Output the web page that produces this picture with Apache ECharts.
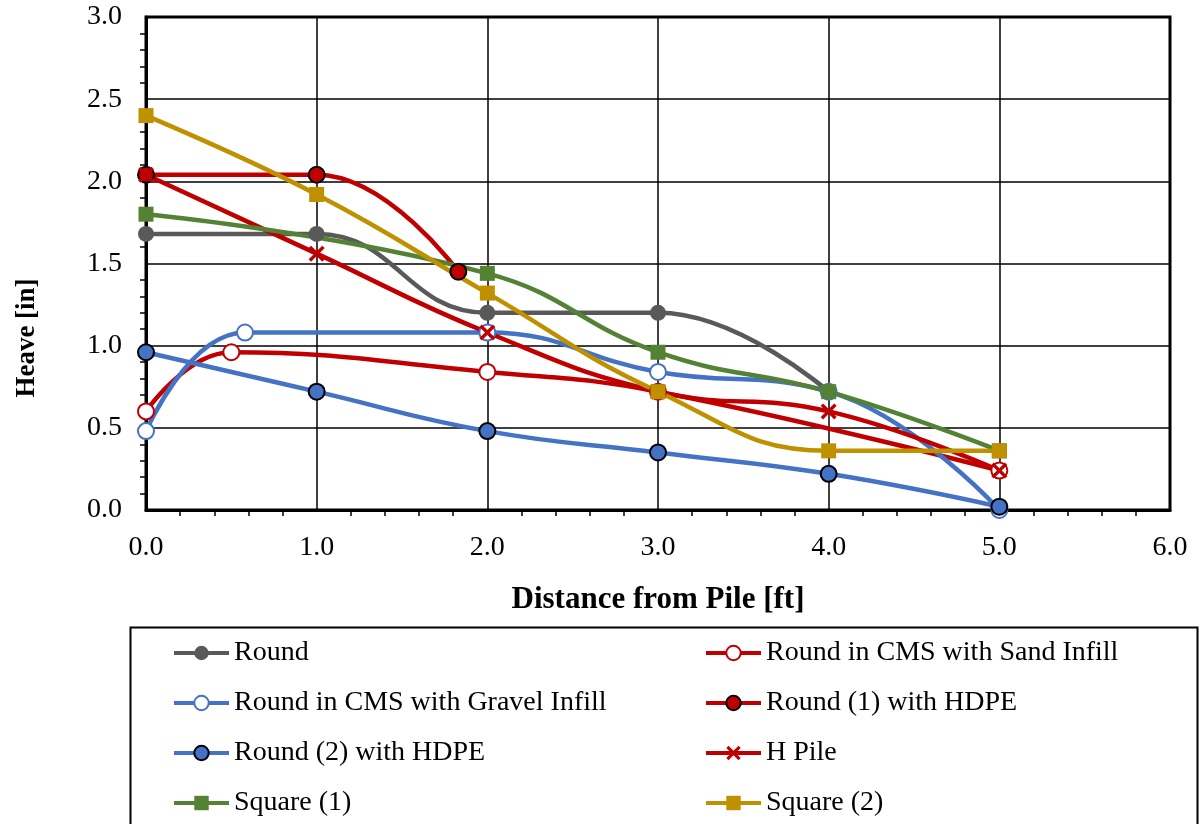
<!DOCTYPE html>
<html><head><meta charset="utf-8">
<script src="https://cdn.jsdelivr.net/npm/echarts@6/dist/echarts.min.js"></script>
<style>html,body{margin:0;padding:0;background:#fff}#c{width:1202px;height:824px}</style>
</head><body><div id="c"></div>
<script>
const names = ['Round','Round in CMS with Sand Infill','Round in CMS with Gravel Infill','Round (1) with HDPE','Round (2) with HDPE','H Pile','Square (1)','Square (2)'];
const roundX = [0,1,2,3,4];
const roundY = [1.68,1.68,1.20,1.20,0.72];
const sandX = [0,0.5,2,3,5];
const sandY = [0.60,0.96,0.84,0.72,0.24];
const gravelX = [0,0.58,2,3,4,5];
const gravelY = [0.48,1.08,1.08,0.84,0.72,0.00];
const hdpe1X = [0,1,1.83];
const hdpe1Y = [2.04,2.04,1.45];
const hdpe2X = [0,1,2,3,4,5];
const hdpe2Y = [0.96,0.72,0.48,0.35,0.22,0.02];
const hpileX = [0,1,2,3,4,5];
const hpileY = [2.04,1.56,1.08,0.72,0.60,0.24];
const sq1X = [0,2,3,4,5];
const sq1Y = [1.80,1.44,0.96,0.72,0.36];
const sq2X = [0,1,2,3,4,5];
const sq2Y = [2.40,1.92,1.32,0.72,0.36,0.36];

const FONT = '"Liberation Serif","Times New Roman",serif';
const pair = (xs, ys) => xs.map((x,i)=>[x, ys[i]]);
const X_PATH = 'path://M0,1.5L1.5,0L5,3.5L8.5,0L10,1.5L6.5,5L10,8.5L8.5,10L5,6.5L1.5,10L0,8.5L3.5,5Z';

function mk(name, data, color, symbol, fill, border, bw) {
  return {
    name, type:'line', data, smooth:0.45, clip:false,
    symbol, symbolSize: symbol==='rect'?15:16,
    lineStyle:{color, width:4.5},
    itemStyle:{color: fill, borderColor: border, borderWidth: bw},
    emphasis:{disabled:true}
  };
}

const series = [
  mk(names[0], pair(roundX,roundY), '#595959', 'circle', '#595959', '#595959', 0),
  mk(names[1], pair(sandX,sandY), '#C00000', 'circle', '#ffffff', '#C00000', 2),
  mk(names[2], pair(gravelX,gravelY), '#4472C4', 'circle', '#ffffff', '#4472C4', 2),
  mk(names[3], pair(hdpe1X,hdpe1Y), '#C00000', 'circle', '#C00000', '#000000', 2),
  mk(names[4], pair(hdpe2X,hdpe2Y), '#4472C4', 'circle', '#4472C4', '#000000', 2),
  mk(names[5], pair(hpileX,hpileY), '#C00000', X_PATH, '#C00000', '#C00000', 0),
  mk(names[6], pair(sq1X,sq1Y), '#548235', 'rect', '#548235', '#548235', 0),
  mk(names[7], pair(sq2X,sq2Y), '#BF9000', 'rect', '#BF9000', '#BF9000', 0)
];

const legendCommon = {
  orient:'vertical', itemWidth:55, itemHeight:18, itemGap:20, padding:0,
  height:400,
  lineStyle:{width:4},
  textStyle:{fontFamily:FONT, fontSize:28, color:'#000', lineHeight:30},
  selectedMode:false, top:638
};

const chart = echarts.init(document.getElementById('c'), null, {renderer:'canvas'});
chart.setOption({
  animation:false,
  backgroundColor:'#fff',
  grid:{left:146, right:32, top:17, bottom:314, show:true, borderColor:'#000', borderWidth:3, backgroundColor:'transparent'},
  xAxis:{
    type:'value', min:0, max:6, interval:1,
    name:'Distance from Pile [ft]', nameLocation:'middle', nameGap:74,
    nameTextStyle:{fontFamily:FONT, fontSize:31, fontWeight:'bold', color:'#000'},
    axisLine:{show:true, onZero:false, lineStyle:{color:'#000', width:3}},
    axisTick:{show:false},
    minorTick:{show:true, splitNumber:5, length:6, lineStyle:{color:'#000', width:1.5}},
    splitLine:{show:true, lineStyle:{color:'#000', width:1.5}},
    axisLabel:{fontFamily:FONT, fontSize:28, color:'#000', margin:24, formatter:v=>v.toFixed(1)}
  },
  yAxis:{
    type:'value', min:0, max:3, interval:0.5,
    axisLine:{show:true, onZero:false, lineStyle:{color:'#000', width:3}},
    axisTick:{show:false},
    minorTick:{show:true, splitNumber:5, length:6, lineStyle:{color:'#000', width:1.5}},
    splitLine:{show:true, lineStyle:{color:'#000', width:1.5}},
    axisLabel:{fontFamily:FONT, fontSize:28, color:'#000', margin:24, formatter:v=>v.toFixed(1)}
  },
  legend:[
    Object.assign({}, legendCommon, {left:172, data:[names[0],names[2],names[4],names[6]]}),
    Object.assign({}, legendCommon, {left:704, data:[names[1],names[3],names[5],names[7]]})
  ],
  graphic:[
    {type:'rect', shape:{x:130.5, y:627.5, width:1067, height:300}, style:{fill:'none', stroke:'#000', lineWidth:2}, silent:true, z:-1},
    {type:'text', x:27, y:338, rotation:Math.PI/2, style:{text:'Heave [in]', font:'bold 27px '+FONT, fill:'#000', align:'center', verticalAlign:'middle'}}
  ],
  series
});
</script></body></html>
